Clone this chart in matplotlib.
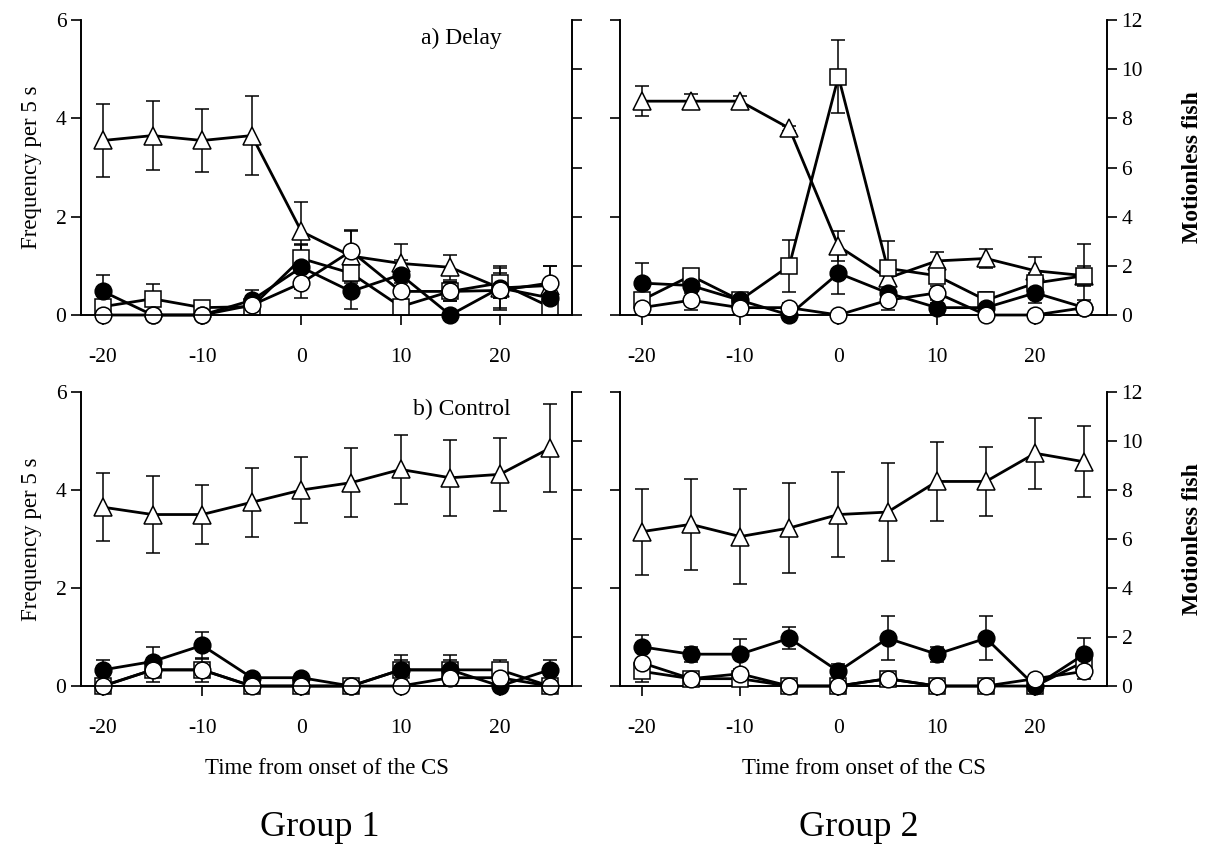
import matplotlib
matplotlib.use('Agg')
import matplotlib.pyplot as plt

plt.rcParams['font.family'] = ['Liberation Serif', 'DejaVu Serif']

time = [-20, -15, -10, -5, 0, 5, 10, 15, 20, 25]
tick_pos = [-20, -10, 0, 10, 20]
tick_lab = ['-20', '-10', '0', '10', '20']

# group 1, delay (frequency per 5 s)
g1d_tri = [3.55, 3.65, 3.55, 3.65, 1.7, 1.2, 1.05, 0.97, 0.55, 0.6]
g1d_tri_err = [0.75, 0.7, 0.65, 0.8, 0.6, 0.5, 0.4, 0.25, 0.45, 0.4]
g1d_fill = [0.48, 0.0, 0.0, 0.3, 0.97, 0.48, 0.82, 0.0, 0.55, 0.35]
g1d_fill_err = [0.33, 0.0, 0.05, 0.2, 0.45, 0.35, 0.3, 0.0, 0.2, 0.2]
g1d_circ = [0.0, 0.0, 0.0, 0.2, 0.65, 1.3, 0.48, 0.48, 0.5, 0.65]
g1d_circ_err = [0.0, 0.0, 0.0, 0.1, 0.3, 0.42, 0.25, 0.2, 0.35, 0.35]
g1d_sq = [0.17, 0.33, 0.15, 0.17, 1.15, 0.85, 0.17, 0.48, 0.65, 0.17]
g1d_sq_err = [0.1, 0.3, 0.1, 0.1, 0.3, 0.2, 0.1, 0.2, 0.3, 0.1]

# group 2, delay (motionless fish)
g2d_tri = [8.7, 8.7, 8.7, 7.6, 2.8, 1.5, 2.2, 2.3, 1.8, 1.6]
g2d_tri_err = [0.6, 0.3, 0.2, 0.1, 0.6, 0.2, 0.35, 0.4, 0.55, 0.4]
g2d_fill = [1.3, 1.2, 0.6, 0.0, 1.7, 0.9, 0.3, 0.3, 0.9, 0.3]
g2d_fill_err = [0.8, 0.3, 0.2, 0.1, 0.85, 0.3, 0.2, 0.2, 0.4, 0.3]
g2d_circ = [0.3, 0.6, 0.3, 0.3, 0.0, 0.6, 0.9, 0.0, 0.0, 0.3]
g2d_circ_err = [0.2, 0.4, 0.2, 0.2, 0.0, 0.4, 0.3, 0.0, 0.0, 0.2]
g2d_sq = [0.6, 1.6, 0.6, 2.0, 9.7, 1.9, 1.6, 0.6, 1.3, 1.6]
g2d_sq_err = [0.3, 0.2, 0.3, 1.05, 1.5, 1.1, 0.3, 0.35, 0.4, 1.3]

# group 1, control (frequency per 5 s)
g1c_tri = [3.65, 3.5, 3.5, 3.75, 4.0, 4.15, 4.42, 4.25, 4.32, 4.85]
g1c_tri_err = [0.7, 0.78, 0.6, 0.7, 0.67, 0.7, 0.7, 0.77, 0.75, 0.9]
g1c_fill = [0.33, 0.5, 0.83, 0.17, 0.17, 0.0, 0.33, 0.33, 0.0, 0.33]
g1c_fill_err = [0.2, 0.3, 0.28, 0.05, 0.05, 0.0, 0.2, 0.2, 0.0, 0.2]
g1c_circ = [0.0, 0.33, 0.33, 0.0, 0.0, 0.0, 0.0, 0.17, 0.17, 0.0]
g1c_circ_err = [0.0, 0.25, 0.25, 0.0, 0.0, 0.0, 0.0, 0.1, 0.1, 0.0]
g1c_sq = [0.0, 0.33, 0.33, 0.0, 0.0, 0.0, 0.33, 0.33, 0.33, 0.0]
g1c_sq_err = [0.0, 0.1, 0.1, 0.0, 0.0, 0.0, 0.3, 0.3, 0.2, 0.0]

# group 2, control (motionless fish)
g2c_tri = [6.3, 6.6, 6.1, 6.45, 7.0, 7.1, 8.35, 8.35, 9.5, 9.15]
g2c_tri_err = [1.75, 1.85, 1.95, 1.85, 1.75, 2.0, 1.6, 1.4, 1.45, 1.45]
g2c_fill = [1.6, 1.3, 1.3, 1.95, 0.6, 1.95, 1.3, 1.95, 0.0, 1.3]
g2c_fill_err = [0.5, 0.3, 0.6, 0.45, 0.3, 0.9, 0.3, 0.9, 0.0, 0.65]
g2c_circ = [0.95, 0.3, 0.5, 0.0, 0.0, 0.3, 0.0, 0.0, 0.3, 0.6]
g2c_circ_err = [0.8, 0.1, 0.1, 0.0, 0.0, 0.1, 0.0, 0.0, 0.1, 0.3]
g2c_sq = [0.6, 0.3, 0.3, 0.0, 0.0, 0.3, 0.0, 0.0, 0.0, 1.0]
g2c_sq_err = [0.1, 0.1, 0.1, 0.0, 0.0, 0.1, 0.0, 0.0, 0.1, 0.2]

FS = 15.5


def draw_series(ax, vals, errs, marker, face, ms=12):
    ax.errorbar(time, vals, yerr=errs, fmt='none', ecolor='black',
                elinewidth=1.1, capsize=5, capthick=1.1, zorder=2, clip_on=False)
    ax.plot(time, vals, color='black', lw=2, marker=marker, ms=ms,
            mfc=face, mec='black', mew=1.1, zorder=3, clip_on=False)


def panel(rect, data, left_side, label=None, bottom_row=False):
    ax = fig.add_axes(rect)
    ax.set_ylim(0, 6)
    ax.set_xlim(-22.2, 27.3)
    ax2 = ax.twinx()
    ax2.set_ylim(0, 12)
    for a in (ax, ax2):
        a.spines['top'].set_visible(False)
        for s in a.spines.values():
            s.set_linewidth(1.2)
        a.tick_params(direction='out', length=7, width=1.2, labelsize=FS)
    ax.set_yticks([0, 2, 4, 6])
    ax2.set_yticks(range(0, 13, 2))
    ax.set_xticks(tick_pos)
    ax.set_xticklabels(tick_lab)
    ax.tick_params(axis='x', pad=17)
    if left_side:
        ax2.set_yticklabels([])
        ax.set_ylabel('Frequency per 5 s', fontsize=16.5, labelpad=10)
        target = ax
    else:
        ax.set_yticklabels([])
        ax2.set_ylabel('Motionless fish', fontsize=17, fontweight='bold', labelpad=28)
        target = ax2
    tri, tri_e, fill, fill_e, circ, circ_e, sq, sq_e = data
    draw_series(target, tri, tri_e, '^', 'white', 13)
    draw_series(target, sq, sq_e, 's', 'white', 11.5)
    draw_series(target, fill, fill_e, 'o', 'black')
    draw_series(target, circ, circ_e, 'o', 'white')
    ax2.set_zorder(ax.get_zorder() + 1)
    if label:
        ax.text(0.775, 0.975, label, transform=ax.transAxes, fontsize=17,
                ha='center', va='top')
    if bottom_row:
        ax.set_xlabel('Time from onset of the CS', fontsize=16.5, labelpad=14)
    return ax


fig = plt.figure(figsize=(12.1, 8.5), dpi=100)

panel([0.067, 0.6294, 0.406, 0.347],
      (g1d_tri, g1d_tri_err, g1d_fill, g1d_fill_err, g1d_circ, g1d_circ_err, g1d_sq, g1d_sq_err),
      True, 'a) Delay')
panel([0.5124, 0.6294, 0.4025, 0.347],
      (g2d_tri, g2d_tri_err, g2d_fill, g2d_fill_err, g2d_circ, g2d_circ_err, g2d_sq, g2d_sq_err),
      False)
panel([0.067, 0.1929, 0.406, 0.3459],
      (g1c_tri, g1c_tri_err, g1c_fill, g1c_fill_err, g1c_circ, g1c_circ_err, g1c_sq, g1c_sq_err),
      True, 'b) Control', True)
panel([0.5124, 0.1929, 0.4025, 0.3459],
      (g2c_tri, g2c_tri_err, g2c_fill, g2c_fill_err, g2c_circ, g2c_circ_err, g2c_sq, g2c_sq_err),
      False, None, True)

fig.text(0.264, 0.027, 'Group 1', fontsize=26, ha='center', va='center')
fig.text(0.71, 0.027, 'Group 2', fontsize=26, ha='center', va='center')

fig.savefig('out.png', dpi=100)
